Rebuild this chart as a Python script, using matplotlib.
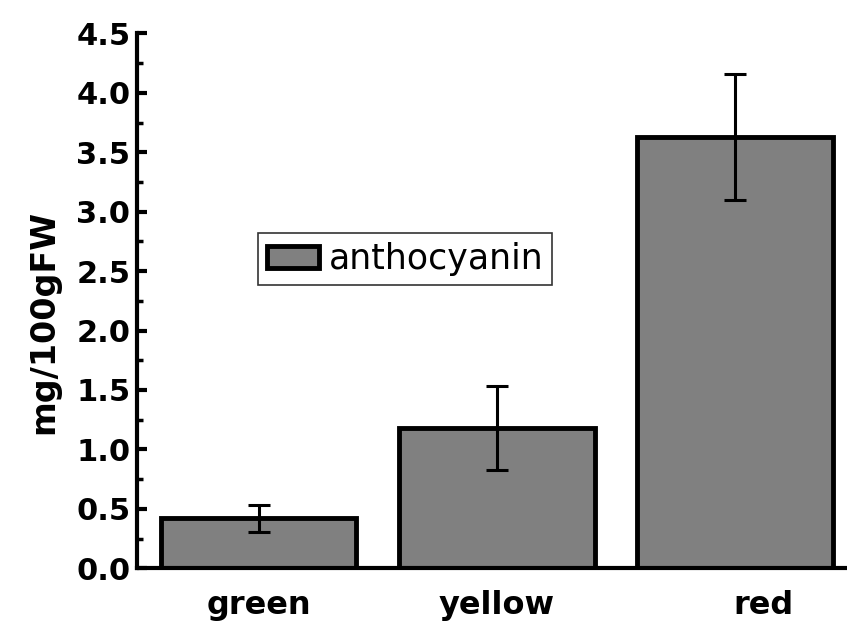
import matplotlib.pyplot as plt
from matplotlib.ticker import MultipleLocator

# ============= DATA =============
categories = ['green', 'yellow', 'red']
anthocyanin = [0.42, 1.18, 3.63]
anthocyanin_err = [0.115, 0.35, 0.53]

plt.rcParams['font.family'] = ['DejaVu Sans']

fig = plt.figure(figsize=(8.47, 6.3), dpi=100)
ax = fig.add_axes([0.162, 0.098, 0.838, 0.849])

x = range(len(categories))
ax.bar(x, anthocyanin, width=0.82, color='#808080', edgecolor='black',
       linewidth=3.5, label='anthocyanin', zorder=2)
ax.errorbar(x, anthocyanin, yerr=anthocyanin_err, fmt='none', ecolor='black',
            elinewidth=2.2, capsize=8, capthick=2.2, zorder=3)

# Axes limits / ticks
ax.set_xlim(-0.51, 2.47)
ax.set_ylim(0, 4.5)
ax.yaxis.set_major_locator(MultipleLocator(0.5))
ax.yaxis.set_minor_locator(MultipleLocator(0.25))
ax.yaxis.set_major_formatter(plt.FormatStrFormatter('%.1f'))
ax.tick_params(axis='y', which='major', direction='in', length=7, width=3,
               labelsize=22, pad=5)
ax.tick_params(axis='y', which='minor', direction='in', length=4, width=2.5)
ax.set_xticks([0, 1, 2.12])
ax.set_xticklabels(categories)
ax.tick_params(axis='x', length=0, labelsize=23, pad=16)
for lab in ax.get_xticklabels() + ax.get_yticklabels():
    lab.set_fontweight('bold')

ax.set_ylabel('mg/100gFW', fontsize=24, fontweight='bold')
ax.yaxis.set_label_coords(-0.108, 0.46)

# Spines
for side in ['top', 'right']:
    ax.spines[side].set_visible(False)
for side in ['left', 'bottom']:
    ax.spines[side].set_linewidth(3)

# Legend
leg = ax.legend(loc='upper left', bbox_to_anchor=(0.17, 0.626), borderaxespad=0,
                fontsize=25, fancybox=False, frameon=True, handlelength=1.5,
                handleheight=0.6, handletextpad=0.3, borderpad=0.25)
leg.get_frame().set_edgecolor('black')
leg.get_frame().set_linewidth(1.2)

plt.savefig('out.png', dpi=100)
